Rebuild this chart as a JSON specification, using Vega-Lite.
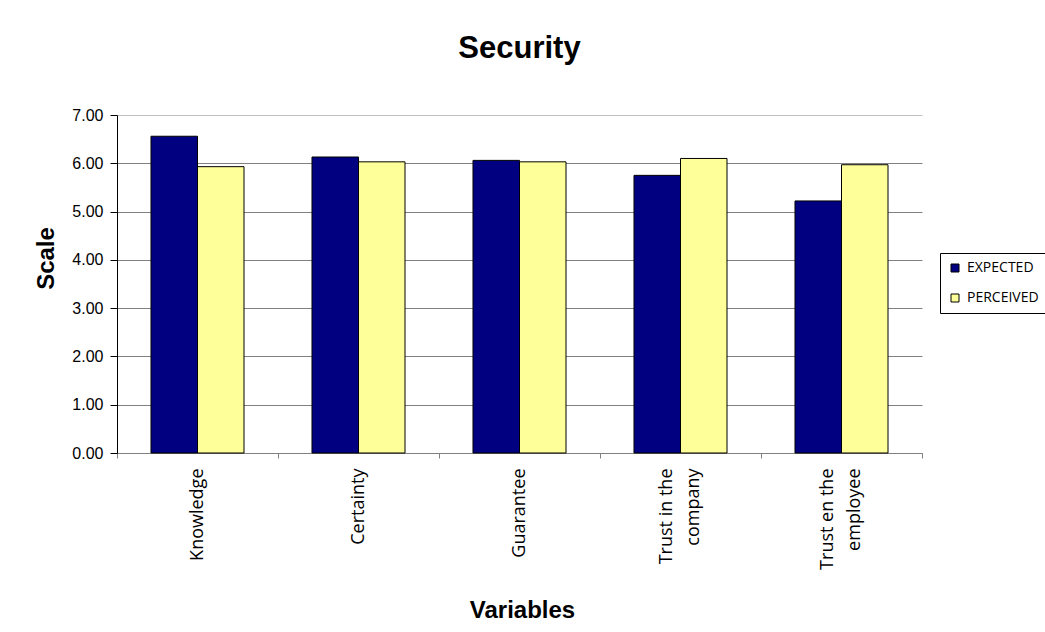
{
  "$schema": "https://vega.github.io/schema/vega-lite/v6.json",
  "width": 805,
  "height": 338,
  "autosize": {"type": "none"},
  "padding": {"left": 117, "top": 115, "right": 123, "bottom": 179},
  "background": "white",
  "title": {
    "text": "Security",
    "font": "Liberation Sans",
    "fontSize": 31,
    "fontWeight": "bold",
    "color": "black",
    "anchor": "middle",
    "frame": "group",
    "offset": 42
  },
  "data": {
    "values": [
      {"variable": "Knowledge", "series": "EXPECTED", "value": 6.56},
      {"variable": "Knowledge", "series": "PERCEIVED", "value": 5.93},
      {"variable": "Certainty", "series": "EXPECTED", "value": 6.13},
      {"variable": "Certainty", "series": "PERCEIVED", "value": 6.03},
      {"variable": "Guarantee", "series": "EXPECTED", "value": 6.06},
      {"variable": "Guarantee", "series": "PERCEIVED", "value": 6.03},
      {"variable": "Trust in the company", "series": "EXPECTED", "value": 5.75},
      {"variable": "Trust in the company", "series": "PERCEIVED", "value": 6.1},
      {"variable": "Trust en the employee", "series": "EXPECTED", "value": 5.22},
      {"variable": "Trust en the employee", "series": "PERCEIVED", "value": 5.97}
    ]
  },
  "mark": {"type": "bar", "stroke": "black", "strokeWidth": 1},
  "encoding": {
    "x": {
      "field": "variable",
      "type": "nominal",
      "sort": null,
      "scale": {"paddingInner": 0, "paddingOuter": 0},
      "axis": {
        "title": "Variables",
        "titleFont": "Liberation Sans",
        "titleFontSize": 24,
        "titleFontWeight": "bold",
        "titleColor": "black",
        "titleBaseline": "alphabetic",
        "titleAlign": "center",
        "titleX": 405,
        "titleY": 164,
        "labelAngle": 270,
        "labelAlign": "right",
        "labelBaseline": "middle",
        "labelFont": "Open Sans",
        "labelFontSize": 18,
        "labelColor": "black",
        "labelLineHeight": 27,
        "labelPadding": 10,
        "labelOffset": {"condition": {"test": "indexof(datum.label, 'Trust') === 0", "value": -14}, "value": 0},
        "labelExpr": "datum.label == 'Trust in the company' ? ['Trust in the', 'company'] : datum.label == 'Trust en the employee' ? ['Trust en the', 'employee'] : datum.label",
        "tickBand": "extent",
        "tickSize": 5,
        "tickColor": "#808080",
        "domainColor": "#808080",
        "grid": false
      }
    },
    "xOffset": {"field": "series", "type": "nominal", "scale": {"paddingInner": 0, "paddingOuter": 0.731}},
    "y": {
      "field": "value",
      "type": "quantitative",
      "scale": {"domain": [0, 7]},
      "axis": {
        "title": "Scale",
        "titleFont": "Liberation Sans",
        "titleFontSize": 24,
        "titleFontWeight": "bold",
        "titleColor": "black",
        "titleAngle": 270,
        "titleAlign": "center",
        "titleBaseline": "alphabetic",
        "titleX": -64,
        "titleY": 143,
        "values": [0, 1, 2, 3, 4, 5, 6, 7],
        "format": ".2f",
        "labelFont": "Liberation Sans",
        "labelFontSize": 16,
        "labelColor": "black",
        "labelPadding": 7,
        "tickSize": 7,
        "tickColor": "black",
        "domainColor": "black",
        "grid": true,
        "gridColor": {"condition": {"test": "datum.value === 7", "value": "#c0c0c0"}, "value": "#808080"},
        "gridWidth": 1
      }
    },
    "color": {
      "field": "series",
      "type": "nominal",
      "scale": {"domain": ["EXPECTED", "PERCEIVED"], "range": ["#000080", "#FFFF99"]},
      "legend": {
        "title": null,
        "orient": "none",
        "legendX": 823,
        "legendY": 138,
        "strokeColor": "black",
        "padding": 8,
        "symbolType": "square",
        "symbolSize": 64,
        "symbolStrokeColor": "black",
        "symbolStrokeWidth": 1,
        "labelFont": "Open Sans",
        "labelFontSize": 14,
        "labelColor": "black",
        "labelOffset": 5,
        "rowPadding": 16
      }
    }
  },
  "config": {
    "view": {"stroke": null},
    "axis": {"domainWidth": 1, "tickWidth": 1}
  }
}
